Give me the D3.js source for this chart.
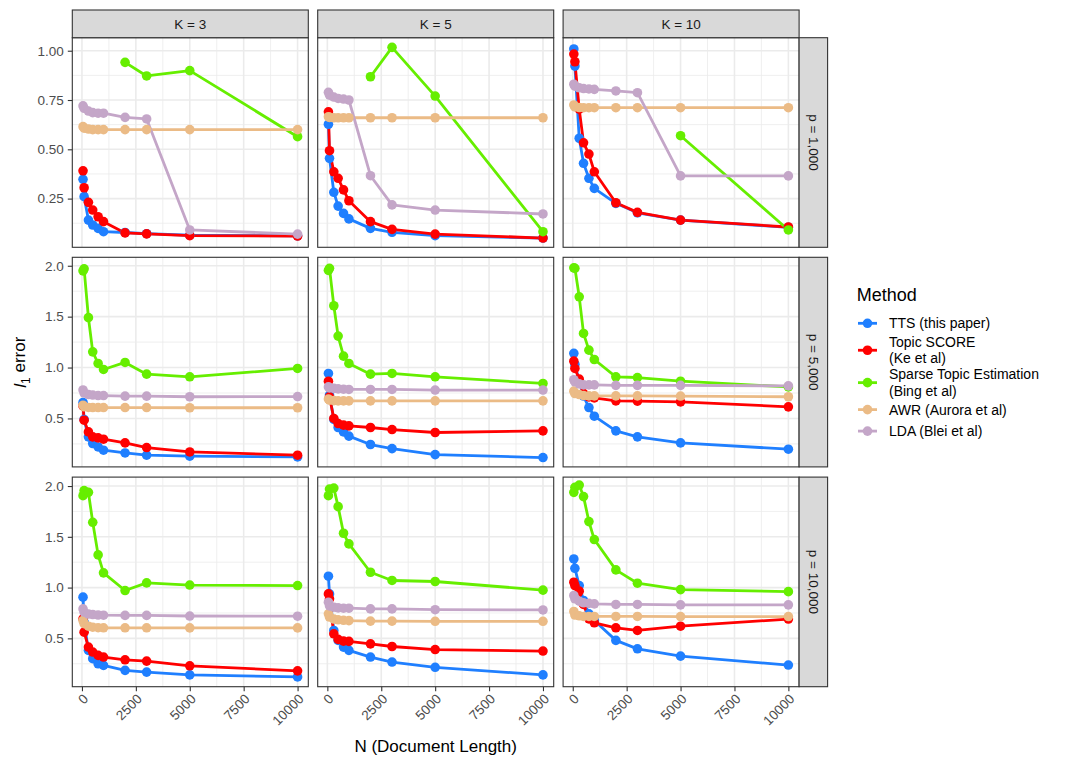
<!DOCTYPE html>
<html><head><meta charset="utf-8">
<script src="https://cdn.jsdelivr.net/npm/d3@7/dist/d3.min.js"></script>
<style>
body{margin:0;background:#fff}
text{font-family:"Liberation Sans",Arial,Helvetica,sans-serif}
</style>
</head><body>
<svg id="c" width="1069" height="766"></svg>
<script>
// ---------------- data ----------------
const N = [50, 100, 300, 500, 750, 1000, 2000, 3000, 5000, 10000];
const colLabels = ["K = 3", "K = 5", "K = 10"];
const rowLabels = ["p = 1,000", "p = 5,000", "p = 10,000"];
const methodLabels = [
  ["TTS (this paper)"],
  ["Topic SCORE", "(Ke et al)"],
  ["Sparse Topic Estimation", "(Bing et al)"],
  ["AWR (Aurora et al)"],
  ["LDA (Blei et al)"]
];
const methodColors = ["#1f7fff", "#ff0000", "#66ee00", "#ebbb86", "#c4a6c8"];

// each: [row p=1000, p=5000, p=10000][col K=3, K=5, K=10][N]
const tts = [
  [[0.348, 0.26, 0.141, 0.116, 0.099, 0.082, 0.078, 0.072, 0.064, 0.061],
   [0.627, 0.454, 0.282, 0.212, 0.175, 0.147, 0.099, 0.079, 0.062, 0.05],
   [1.009, 0.922, 0.556, 0.429, 0.353, 0.302, 0.226, 0.178, 0.141, 0.104]],
  [[0.657, 0.49, 0.319, 0.254, 0.22, 0.188, 0.161, 0.139, 0.129, 0.122],
   [0.942, 0.73, 0.49, 0.411, 0.368, 0.326, 0.244, 0.204, 0.145, 0.116],
   [1.14, 1.03, 0.87, 0.72, 0.607, 0.522, 0.378, 0.319, 0.26, 0.198]],
  [[0.906, 0.66, 0.382, 0.3, 0.25, 0.234, 0.185, 0.168, 0.14, 0.12],
   [1.112, 0.938, 0.578, 0.48, 0.414, 0.382, 0.316, 0.267, 0.215, 0.14],
   [1.282, 1.19, 1.02, 0.873, 0.742, 0.676, 0.48, 0.397, 0.325, 0.237]]
];
const topicScore = [
  [[0.391, 0.305, 0.231, 0.192, 0.158, 0.133, 0.076, 0.071, 0.062, 0.06],
   [0.69, 0.493, 0.386, 0.353, 0.294, 0.239, 0.133, 0.094, 0.07, 0.05],
   [0.983, 0.944, 0.704, 0.533, 0.476, 0.386, 0.229, 0.18, 0.141, 0.106]],
  [[0.623, 0.483, 0.368, 0.319, 0.309, 0.296, 0.26, 0.214, 0.171, 0.139],
   [0.866, 0.712, 0.5, 0.45, 0.434, 0.427, 0.411, 0.391, 0.362, 0.378],
   [1.063, 0.991, 0.886, 0.745, 0.712, 0.702, 0.673, 0.67, 0.663, 0.614]],
  [[0.692, 0.561, 0.414, 0.365, 0.332, 0.316, 0.289, 0.276, 0.23, 0.18],
   [0.938, 0.889, 0.545, 0.49, 0.473, 0.47, 0.446, 0.42, 0.39, 0.375],
   [1.053, 1.02, 0.965, 0.834, 0.692, 0.653, 0.604, 0.578, 0.62, 0.69]]
];
const sparseTopic = [
  [[null, null, null, null, null, null, 0.941, 0.872, 0.899, 0.564],
   [null, null, null, null, null, null, 0.868, 1.017, 0.77, 0.082],
   [null, null, null, null, null, null, null, null, 0.569, 0.091]],
  [[1.95, 1.97, 1.49, 1.154, 1.04, 0.981, 1.05, 0.935, 0.909, 0.991],
   [1.955, 1.975, 1.607, 1.309, 1.112, 1.04, 0.935, 0.942, 0.909, 0.844],
   [1.98, 1.975, 1.695, 1.335, 1.171, 1.079, 0.909, 0.902, 0.866, 0.81]],
  [[1.905, 1.955, 1.938, 1.643, 1.322, 1.145, 0.971, 1.046, 1.025, 1.02],
   [1.905, 1.97, 1.98, 1.797, 1.535, 1.43, 1.151, 1.07, 1.06, 0.975],
   [1.938, 1.987, 2.01, 1.896, 1.65, 1.473, 1.174, 1.043, 0.98, 0.96]]
];
const awr = [
  [[0.615, 0.607, 0.603, 0.6, 0.6, 0.6, 0.6, 0.6, 0.6, 0.6],
   [0.665, 0.662, 0.66, 0.66, 0.66, 0.66, 0.66, 0.66, 0.66, 0.66],
   [0.725, 0.715, 0.712, 0.711, 0.711, 0.711, 0.711, 0.711, 0.711, 0.711]],
  [[0.63, 0.615, 0.608, 0.607, 0.607, 0.607, 0.607, 0.607, 0.605, 0.605],
   [0.69, 0.68, 0.675, 0.673, 0.673, 0.673, 0.673, 0.673, 0.673, 0.673],
   [0.768, 0.745, 0.735, 0.725, 0.722, 0.722, 0.722, 0.722, 0.72, 0.713]],
  [[0.676, 0.645, 0.62, 0.61, 0.605, 0.604, 0.604, 0.604, 0.603, 0.603],
   [0.742, 0.71, 0.69, 0.683, 0.678, 0.675, 0.67, 0.67, 0.668, 0.668],
   [0.765, 0.73, 0.722, 0.716, 0.716, 0.716, 0.716, 0.716, 0.715, 0.715]]
];
const lda = [
  [[0.72, 0.708, 0.694, 0.686, 0.683, 0.683, 0.662, 0.654, 0.091, 0.07],
   [0.789, 0.775, 0.765, 0.758, 0.755, 0.75, 0.366, 0.218, 0.192, 0.172],
   [0.83, 0.82, 0.812, 0.808, 0.806, 0.804, 0.796, 0.787, 0.365, 0.365]],
  [[0.78, 0.75, 0.735, 0.73, 0.725, 0.725, 0.719, 0.719, 0.713, 0.715],
   [0.81, 0.8, 0.795, 0.79, 0.787, 0.785, 0.785, 0.785, 0.779, 0.779],
   [0.88, 0.86, 0.84, 0.83, 0.83, 0.83, 0.825, 0.825, 0.825, 0.82]],
  [[0.79, 0.758, 0.74, 0.735, 0.73, 0.728, 0.726, 0.726, 0.72, 0.718],
   [0.856, 0.82, 0.807, 0.8, 0.797, 0.797, 0.79, 0.79, 0.782, 0.78],
   [0.922, 0.89, 0.866, 0.85, 0.845, 0.84, 0.834, 0.834, 0.83, 0.83]]
];
const seriesData = [tts, topicScore, sparseTopic, awr, lda];

const xTicks = [0, 2500, 5000, 7500, 10000];
const yTicksByRow = [[0.25, 0.5, 0.75, 1.0], [0.5, 1.0, 1.5, 2.0], [0.5, 1.0, 1.5, 2.0]];
const yFormatByRow = [".2f", ".1f", ".1f"];
const yDomainsByRow = [[0.003, 1.066], [0.024, 2.083], [0.024, 2.088]];

// ---------------- layout ----------------
const svg = d3.select("#c");
const colX = [72.3, 317.7, 563.1];
const rowY = [37.7, 257.3, 477.1];
const pw = 236, ph = 209.6;
const stripH = 27.7, stripW = 28.5;
const FONT = '"Liberation Sans",Arial,Helvetica,sans-serif';

const nExt = d3.extent(N);
const nPad = (nExt[1] - nExt[0]) * 0.05;
const x = d3.scaleLinear().domain([nExt[0] - nPad, nExt[1] + nPad]).range([0, pw]);

function minorBreaks(ticks, domain) {
  const step = ticks[1] - ticks[0];
  const out = [];
  for (let i = -1; i < ticks.length; i++) {
    const v = (i < 0 ? ticks[0] - step : ticks[i]) + step / 2;
    if (v > domain[0] && v < domain[1]) out.push(v);
  }
  return out;
}

const line = d3.line();

rowY.forEach((ry, r) => {
  const y = d3.scaleLinear().domain(yDomainsByRow[r]).range([ph, 0]);
  colX.forEach((cx, c) => {
    const g = svg.append("g").attr("transform", `translate(${cx},${ry})`);
    // grid
    const xMinor = minorBreaks(xTicks, x.domain());
    const yMinor = minorBreaks(yTicksByRow[r], y.domain());
    g.selectAll(".xm").data(xMinor).join("line")
      .attr("x1", d => x(d)).attr("x2", d => x(d)).attr("y1", 0).attr("y2", ph)
      .attr("stroke", "#ebebeb").attr("stroke-width", 0.8);
    g.selectAll(".ym").data(yMinor).join("line")
      .attr("y1", d => y(d)).attr("y2", d => y(d)).attr("x1", 0).attr("x2", pw)
      .attr("stroke", "#ebebeb").attr("stroke-width", 0.8);
    g.selectAll(".xM").data(xTicks).join("line")
      .attr("x1", d => x(d)).attr("x2", d => x(d)).attr("y1", 0).attr("y2", ph)
      .attr("stroke", "#ebebeb").attr("stroke-width", 1.6);
    g.selectAll(".yM").data(yTicksByRow[r]).join("line")
      .attr("y1", d => y(d)).attr("y2", d => y(d)).attr("x1", 0).attr("x2", pw)
      .attr("stroke", "#ebebeb").attr("stroke-width", 1.6);

    // lines
    seriesData.forEach((s, m) => {
      const pts = N.map((n, i) => ({ n, v: s[r][c][i] })).filter(d => d.v != null);
      line.x(d => x(d.n)).y(d => y(d.v));
      g.append("path").attr("d", line(pts))
        .attr("fill", "none").attr("stroke", methodColors[m]).attr("stroke-width", 2.8)
        .attr("stroke-linejoin", "round");
    });
    // points
    seriesData.forEach((s, m) => {
      const pts = N.map((n, i) => ({ n, v: s[r][c][i] })).filter(d => d.v != null);
      g.selectAll(null).data(pts).join("circle")
        .attr("cx", d => x(d.n)).attr("cy", d => y(d.v)).attr("r", 4.8)
        .attr("fill", methodColors[m]);
    });
    // border
    g.append("rect").attr("width", pw).attr("height", ph)
      .attr("fill", "none").attr("stroke", "#333333").attr("stroke-width", 1.1);

    // y axis on first col
    if (c === 0) {
      const ax = g.append("g").call(d3.axisLeft(y).tickValues(yTicksByRow[r])
        .tickFormat(d3.format(yFormatByRow[r])).tickSize(4.5).tickPadding(4));
      ax.select(".domain").remove();
      ax.selectAll("line").attr("stroke", "#333333").attr("stroke-width", 1.1);
      ax.selectAll("text").attr("fill", "#4d4d4d").style("font-size", "13.5px").style("font-family", FONT);
    }
    // x axis on last row
    if (r === 2) {
      const ax = g.append("g").attr("transform", `translate(0,${ph})`)
        .call(d3.axisBottom(x).tickValues(xTicks).tickFormat(d3.format("d")).tickSize(4.5));
      ax.select(".domain").remove();
      ax.selectAll("line").attr("stroke", "#333333").attr("stroke-width", 1.1);
      ax.selectAll("text").attr("fill", "#4d4d4d").style("font-size", "13.5px").style("font-family", FONT)
        .attr("text-anchor", "end").attr("dy", null).attr("y", null)
        .attr("transform", "translate(6.5,13) rotate(-45)");
    }
    // top strips
    if (r === 0) {
      const sg = svg.append("g").attr("transform", `translate(${cx},${ry - stripH})`);
      sg.append("rect").attr("width", pw).attr("height", stripH)
        .attr("fill", "#d9d9d9").attr("stroke", "#333333").attr("stroke-width", 1.1);
      sg.append("text").attr("x", pw / 2).attr("y", stripH / 2).attr("dy", "0.35em")
        .attr("text-anchor", "middle").attr("fill", "#1a1a1a").style("font-size", "13.5px")
        .text(colLabels[c]);
    }
    // right strips
    if (c === 2) {
      const sg = svg.append("g").attr("transform", `translate(${cx + pw},${ry})`);
      sg.append("rect").attr("width", stripW).attr("height", ph)
        .attr("fill", "#d9d9d9").attr("stroke", "#333333").attr("stroke-width", 1.1);
      sg.append("text").attr("transform", `translate(${stripW / 2},${ph / 2}) rotate(90)`)
        .attr("dy", "0.35em").attr("text-anchor", "middle").attr("fill", "#1a1a1a")
        .style("font-size", "13.5px").text(rowLabels[r]);
    }
  });
});

// axis titles
const plotMidX = (colX[0] + colX[2] + pw) / 2;
const plotMidY = (rowY[0] + rowY[2] + ph) / 2;
svg.append("text").attr("x", plotMidX).attr("y", 752).attr("text-anchor", "middle")
  .style("font-size", "17px").attr("fill", "#000").text("N (Document Length)");
const yt = svg.append("text").attr("transform", `translate(26,${plotMidY}) rotate(-90)`)
  .attr("text-anchor", "middle").style("font-size", "17px").attr("fill", "#000");
yt.append("tspan").style("font-style", "italic").text("l");
yt.append("tspan").attr("dy", "0.3em").style("font-size", "12px").text("1");
yt.append("tspan").attr("dy", "-0.3em").text(" error");

// legend
const lg = svg.append("g");
lg.append("text").attr("x", 856.7).attr("y", 300.7).style("font-size", "18px").attr("fill", "#000").text("Method");
const singleH = 21.5, doubleH = 32.4, lineGap = 16.2;
let cursor = 323.3 - singleH / 2;
methodLabels.forEach((lab, m) => {
  const h = lab.length > 1 ? doubleH : singleH;
  const cy = cursor + h / 2;
  lg.append("line").attr("x1", 858).attr("x2", 877).attr("y1", cy).attr("y2", cy)
    .attr("stroke", methodColors[m]).attr("stroke-width", 2.8);
  lg.append("circle").attr("cx", 867.5).attr("cy", cy).attr("r", 4.8).attr("fill", methodColors[m]);
  lab.forEach((t, k) => {
    lg.append("text").attr("x", 889).attr("y", cy + (k - (lab.length - 1) / 2) * lineGap)
      .attr("dy", "0.35em").style("font-size", "14px").attr("fill", "#000").text(t);
  });
  cursor += h;
});
</script>
</body></html>
